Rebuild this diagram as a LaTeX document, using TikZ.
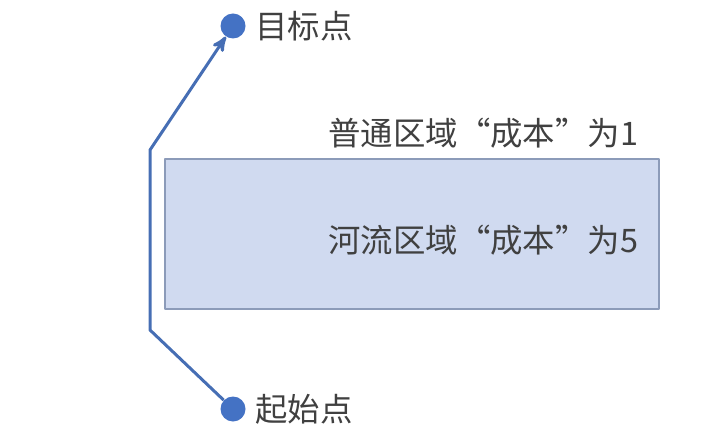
\documentclass[tikz,border=0pt]{standalone}
\usepackage{fontspec}
\setmainfont{Noto Sans CJK SC}
\usepackage{tikz}
\usetikzlibrary{arrows,positioning}

\definecolor{ptblue}{RGB}{68,114,196}
\definecolor{routeblue}{RGB}{70,110,180}
\definecolor{riverfill}{RGB}{208,218,240}
\definecolor{riveredge}{RGB}{140,155,185}
\definecolor{txtgray}{RGB}{64,64,64}

\begin{document}
\begin{tikzpicture}[x=0.5pt,y=-0.5pt,>=stealth',line join=round,
    dot/.style={circle,fill=ptblue,minimum size=12.5pt,inner sep=0pt},
    lbl/.style={text=txtgray,font=\fontsize{16.2}{19}\selectfont,inner sep=0pt},
    river/.style={draw=riveredge,fill=riverfill,line width=1pt,minimum width=247pt,minimum height=75pt,inner sep=0pt},
    route/.style={draw=routeblue,line width=1.5pt}]

      \useasboundingbox (0,0) rectangle (715,432);

      \node[river] (river) at (412,234) {};

      \node[dot] (goal) at (233,26) {};
      \node[dot] (start) at (233,409) {};
      \node[lbl] (goallbl) [right=4.5pt of goal] {目标点};
      \node[lbl] (startlbl) [right=4.5pt of start] {起始点};

      \node[lbl,anchor=west] (normal) at (328,133) {普通区域“成本”为1};
      \node[lbl,anchor=west] (cost) at (328,240) {河流区域“成本”为5};

      \coordinate (lowbend) at (150,330);
      \coordinate (highbend) at (150,150);

      \draw[route,->] (start) -- (lowbend) -- (highbend) -- (goal);

    \end{tikzpicture}
\end{document}
